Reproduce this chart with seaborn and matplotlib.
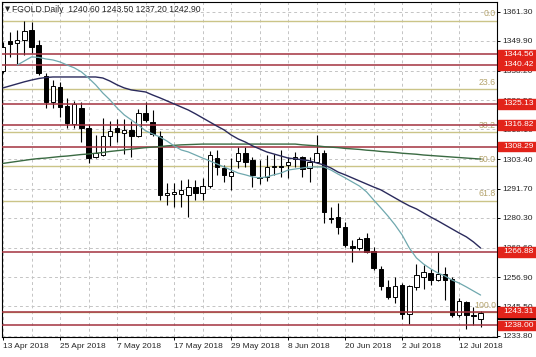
import numpy as np
import pandas as pd
import matplotlib
matplotlib.use("Agg")
import matplotlib.pyplot as plt
import matplotlib.patches as mpatches
import seaborn as sns

# Daily bars, 13 Apr 2018 .. 17 Jul 2018
opens = [1337.9, 1350.0, 1349.0, 1350.3, 1354.2, 1348.3, 1336.2, 1326.0, 1331.9, 1324.3,
         1317.2, 1323.4, 1315.5, 1304.1, 1305.0, 1312.6, 1315.8, 1313.8, 1314.7, 1312.6,
         1321.4, 1318.1, 1312.5, 1289.3, 1289.8, 1289.7, 1289.3, 1292.3, 1289.9, 1292.8,
         1303.7, 1299.8, 1296.8, 1302.5, 1305.7, 1303.1, 1296.5, 1296.2, 1300.3, 1300.6,
         1301.1, 1303.3, 1304.1, 1299.8, 1302.4, 1305.8, 1279.7, 1280.5, 1276.8, 1269.2,
         1268.3, 1272.2, 1267.2, 1260.0, 1253.2, 1249.3, 1254.0, 1242.6, 1253.1, 1257.2,
         1258.4, 1255.8, 1258.0, 1256.4, 1242.1, 1247.3, 1241.9, 1240.6]
highs = [1349.6, 1353.5, 1354.2, 1357.9, 1357.5, 1350.3, 1337.2, 1334.5, 1333.6, 1327.3,
         1326.3, 1325.8, 1317.1, 1312.9, 1319.6, 1318.4, 1319.2, 1319.2, 1318.4, 1323.1,
         1325.8, 1322.7, 1314.5, 1293.9, 1293.9, 1295.2, 1295.5, 1295.2, 1295.9, 1306.6,
         1307.0, 1301.1, 1303.8, 1308.3, 1308.2, 1304.4, 1303.1, 1305.0, 1305.4, 1307.0,
         1304.4, 1306.3, 1304.6, 1304.4, 1312.9, 1307.0, 1284.6, 1286.0, 1278.8, 1271.6,
         1272.9, 1274.2, 1268.9, 1261.3, 1255.8, 1256.9, 1254.5, 1254.0, 1262.3, 1261.7,
         1260.2, 1266.8, 1260.9, 1257.1, 1248.6, 1247.6, 1245.2, 1243.5]
lows = [1337.3, 1343.7, 1340.4, 1344.4, 1345.0, 1336.5, 1323.4, 1323.4, 1320.1, 1315.8,
        1315.5, 1310.2, 1301.8, 1304.0, 1304.6, 1308.7, 1310.3, 1305.4, 1304.2, 1312.1,
        1317.9, 1312.5, 1287.3, 1285.3, 1284.5, 1284.7, 1280.7, 1287.3, 1287.3, 1291.9,
        1297.2, 1294.5, 1291.3, 1299.8, 1300.4, 1292.5, 1293.6, 1294.8, 1297.2, 1296.5,
        1295.9, 1300.4, 1296.2, 1294.5, 1301.8, 1278.1, 1278.3, 1273.9, 1268.9, 1263.0,
        1267.6, 1266.6, 1259.8, 1251.9, 1248.2, 1246.7, 1240.4, 1238.7, 1251.9, 1252.3,
        1253.9, 1255.6, 1248.0, 1241.4, 1241.4, 1236.5, 1238.1, 1237.2]
closes = [1347.6, 1348.7, 1350.3, 1353.9, 1347.6, 1337.2, 1326.0, 1332.2, 1324.0, 1317.5,
          1325.0, 1315.8, 1303.7, 1305.7, 1312.6, 1314.3, 1314.2, 1314.9, 1312.6, 1321.4,
          1318.8, 1313.3, 1289.3, 1290.1, 1290.3, 1291.2, 1292.3, 1289.9, 1292.8, 1305.0,
          1300.3, 1297.2, 1298.5, 1305.7, 1302.4, 1297.2, 1295.9, 1300.4, 1300.6, 1300.3,
          1302.4, 1304.1, 1299.4, 1302.4, 1305.7, 1282.7, 1280.3, 1276.8, 1269.6, 1268.6,
          1271.8, 1266.9, 1260.4, 1253.5, 1249.3, 1253.5, 1242.6, 1253.3, 1257.8, 1258.8,
          1255.8, 1258.1, 1255.8, 1241.9, 1247.6, 1241.9, 1241.5, 1242.9]

# moving averages (fast one starts at the 3rd bar)
ma_fast = [1340.4, 1342.0, 1343.6, 1343.4, 1342.8, 1342.4, 1341.6, 1340.4, 1339.3, 1337.7,
           1335.3, 1332.6, 1329.4, 1326.7, 1323.5, 1320.8, 1318.8, 1316.8, 1314.5, 1313.3,
           1312.1, 1310.5, 1308.6, 1307.0, 1306.2, 1305.0, 1303.8, 1302.7, 1301.5, 1300.3,
           1299.1, 1297.9, 1297.2, 1296.4, 1296.0, 1296.4, 1297.2, 1297.9, 1299.1, 1299.5,
           1299.9, 1300.3, 1300.3, 1300.3, 1299.1, 1297.5, 1296.0, 1294.4, 1292.8, 1290.5,
           1287.3, 1284.2, 1281.0, 1277.5, 1273.5, 1268.4, 1264.5, 1262.1, 1260.2, 1258.6,
           1257.4, 1255.8, 1254.6, 1253.1, 1251.5, 1249.9]
ma_mid = [1331.4, 1332.2, 1333.0, 1333.8, 1334.5, 1335.1, 1335.5, 1335.7, 1335.7, 1335.7,
          1335.7, 1335.7, 1335.7, 1335.7, 1335.3, 1334.1, 1332.6, 1331.4, 1330.6, 1330.2,
          1329.8, 1328.6, 1327.5, 1326.3, 1325.1, 1323.9, 1322.7, 1321.2, 1319.6, 1318.0,
          1316.4, 1314.9, 1312.9, 1311.3, 1310.1, 1308.6, 1307.4, 1306.2, 1305.4, 1304.6,
          1303.8, 1303.5, 1303.1, 1302.7, 1301.9, 1301.1, 1299.9, 1298.3, 1297.2, 1296.0,
          1294.8, 1293.6, 1292.4, 1291.3, 1289.7, 1288.1, 1286.5, 1285.0, 1283.8, 1282.2,
          1280.6, 1279.1, 1277.5, 1275.9, 1274.3, 1272.8, 1270.8, 1268.4]
ma_slow = [1301.7, 1302.1, 1302.5, 1302.9, 1303.3, 1303.6, 1303.8, 1304.1, 1304.4, 1304.6,
           1304.9, 1305.2, 1305.4, 1305.7, 1306.0, 1306.4, 1306.7, 1307.0, 1307.3, 1307.6,
           1307.9, 1308.1, 1308.3, 1308.6, 1308.8, 1309.0, 1309.1, 1309.2, 1309.3, 1309.3,
           1309.3, 1309.3, 1309.3, 1309.3, 1309.3, 1309.3, 1309.3, 1309.3, 1309.3, 1309.3,
           1309.3, 1309.3, 1309.0, 1308.8, 1308.6, 1308.3, 1308.1, 1307.9, 1307.6, 1307.4,
           1307.2, 1306.9, 1306.7, 1306.4, 1306.2, 1306.0, 1305.7, 1305.5, 1305.3, 1305.0,
           1304.8, 1304.6, 1304.4, 1304.2, 1304.0, 1303.8, 1303.6, 1303.4]

sr_levels = [1344.56, 1340.42, 1325.13, 1316.82, 1308.29, 1266.88, 1243.31, 1238.00]
fib_labels = ["0.0", "23.6", "38.2", "50.0", "61.8", "100.0"]
fib_top = 1357.9
fib_bottom = 1243.3
price_ticks = [1361.30, 1349.90, 1338.20, 1326.50, 1315.10, 1303.40,
               1291.70, 1280.30, 1268.60, 1256.90, 1245.50, 1233.80]

dates = pd.bdate_range("2018-04-13", "2018-07-17")
idx = np.arange(len(dates))

sns.set_style("white")
plt.rcParams["font.family"] = ["Liberation Sans", "DejaVu Sans"]

fig = plt.figure(figsize=(5.36, 3.57), dpi=100)
ax = fig.add_axes([2 / 536, 20 / 357, 495 / 536, 335 / 357])

o = np.array(opens)
c = np.array(closes)
up = c >= o

# candles
ax.vlines(idx, lows, highs, color="black", lw=0.8, zorder=3)
body_lo = np.minimum(o, c)
body_h = np.maximum(np.abs(c - o), 0.3)
ax.bar(idx, body_h, bottom=body_lo, width=0.62,
       color=np.where(up, "white", "black"), edgecolor="black", lw=0.7, zorder=4)

# fibonacci levels
fib_prices = [fib_top - (fib_top - fib_bottom) * float(f) / 100 for f in fib_labels]
for lab, p in zip(fib_labels, fib_prices):
    ax.axhline(p, color="#CBC488", lw=1.0, zorder=2)
    ax.text(0.998, p + 0.9, lab, transform=ax.get_yaxis_transform(), ha="right",
            va="bottom", fontsize=6.3, color="#B4A36C", zorder=5)

# support / resistance lines
for p in sr_levels:
    ax.axhline(p, color="#A3323F", lw=1.1, zorder=5)

# moving averages
sns.lineplot(x=idx, y=ma_slow, ax=ax, color="#3A6A42", lw=1.0, zorder=6)
sns.lineplot(x=idx, y=ma_mid, ax=ax, color="#2A2A5C", lw=1.0, zorder=6)
sns.lineplot(x=idx[2:], y=ma_fast, ax=ax, color="#6FA8AE", lw=0.9, zorder=6)

ax.set_xlim(-0.14, 69.3)
ax.set_ylim(1233.4, 1365.2)

# axes, ticks and grid
ax.set_xticks(idx[::8])
ax.set_xticklabels([f"{d.day} {d:%b %Y}" for d in dates[::8]], ha="left")
ax.set_xticks(idx[::4], minor=True)
ax.yaxis.tick_right()
ax.set_yticks(price_ticks)
ax.set_yticklabels([f"{p:.2f}" for p in price_ticks])
ax.tick_params(axis="both", which="major", labelsize=6, length=2.2, width=0.7,
               pad=1.8, color="black", direction="out", bottom=True, right=True)
ax.tick_params(axis="x", which="minor", length=0)
ax.grid(True, which="both", axis="x", color="#C4C4C4", lw=0.7, ls=(0, (3, 3)))
ax.grid(True, which="major", axis="y", color="#C4C4C4", lw=0.7, ls=(0, (3, 3)))
ax.set_axisbelow(True)
ax.set_xlabel("")
ax.set_ylabel("")
for s in ax.spines.values():
    s.set_color("black")
    s.set_linewidth(0.8)
    s.set_visible(True)

# price labels on the right axis
tr = ax.get_yaxis_transform()
box_h = 3.7
ax.add_patch(mpatches.Rectangle((1.002, closes[-1] - box_h / 2 - 0.4), 0.08, box_h,
                                transform=tr, clip_on=False, color="black", zorder=10))
for p in sr_levels:
    ax.add_patch(mpatches.Rectangle((1.002, p - box_h / 2), 0.08, box_h, transform=tr,
                                    clip_on=False, color="#E2231A", zorder=11))
    ax.text(1.012, p, f"{p:.2f}", transform=tr, ha="left", va="center", fontsize=6,
            color="white", zorder=12, clip_on=False)

# header
fig.text(5 / 536, 1 - 9.5 / 357, "▼", fontsize=4.8, va="center", ha="left",
         family=["DejaVu Sans"])
fig.text(12 / 536, 1 - 9.5 / 357,
         f"FGOLD.Daily  {opens[-1]:.2f} {highs[-1]:.2f} {lows[-1]:.2f} {closes[-1]:.2f}",
         fontsize=6.2, va="center", ha="left")

fig.savefig("out.png", dpi=100)
